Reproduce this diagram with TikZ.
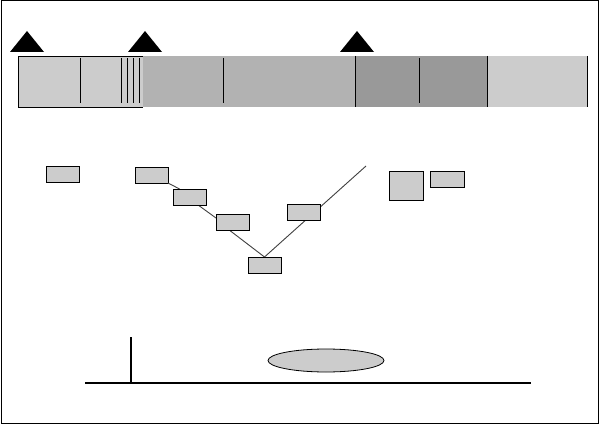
\documentclass[tikz,border=0pt]{standalone}
\usetikzlibrary{calc,shapes.geometric}
\tikzset{
  gbox/.style={draw=black, line width=0.8pt, fill=black!20, inner sep=0pt, outer sep=0pt, minimum width=33pt, minimum height=16pt},
  link/.style={draw=black!75, line width=0.9pt},
  tick/.style={line width=1pt},
  marker/.style={fill=black},
}
\begin{document}
\begin{tikzpicture}[x=1pt,y=-1pt]
\useasboundingbox (0,0) rectangle (600,425);
\fill[white] (0,0) rectangle (600,425);
\draw[line width=1pt] (1,1) rectangle (598.5,423.5);
% bar
\fill[black!20] (18,56) rectangle (143,107);
\fill[black!30] (143,56) rectangle (355,107);
\fill[black!40] (355,56) rectangle (487,107);
\fill[black!20] (487,56) rectangle (587,107);
\draw[line width=0.9pt] (143,56) -- (18,56) -- (18,107) -- (143,107);
\foreach \xx in {80,121,127,133,139,223,419} \draw[tick] (\xx,58) -- (\xx,103);
\foreach \xx in {355,487,587} \draw[tick] (\xx,56) -- (\xx,107);
% markers
\fill[marker] (10,52) -- (27,31) -- (44,52) -- cycle;
\fill[marker] (128,52) -- (145,31) -- (162,52) -- cycle;
\fill[marker] (340,52) -- (357,31) -- (374,52) -- cycle;
\coordinate (T) at (366,166);
% boxes
\node[gbox] (A) at (63,174) {};
\node[gbox] (B) at (151.5,175) {};
\node[gbox] (C) at (189.5,197) {};
\node[gbox] (D) at (232.5,222) {};
\node[gbox] (E) at (264.5,265) {};
\node[gbox] (F) at (303.5,212) {};
\node[gbox, minimum width=34pt, minimum height=29pt] (G) at (406,185.5) {};
\node[gbox, minimum width=34pt] (H) at (447,179) {};
% connectors
\draw[link] (B.south east) -- ($(C.north west)!0.2!(C.north east)$);
\draw[link] ($(C.south west)!0.76!(C.south east)$) -- ($(D.north west)!0.25!(D.south west)$);
\draw[link] ($(D.south west)!0.4!(D.south east)$) -- (E.north);
\draw[link] (E.north) -- (T);
% redraw boxes on top of connectors
\node[gbox] at (C) {};
\node[gbox] at (D) {};
\node[gbox] at (E) {};
\node[gbox] at (F) {};
% bottom
\draw[line width=2.2pt] (85,383) -- (531,383);
\draw[line width=2.2pt] (131,337) -- (131,383);
\node[draw=black, line width=0.8pt, fill=black!20, ellipse, minimum width=116pt, minimum height=23pt, inner sep=0pt] (O) at (326,360.5) {};
\end{tikzpicture}
\end{document}
